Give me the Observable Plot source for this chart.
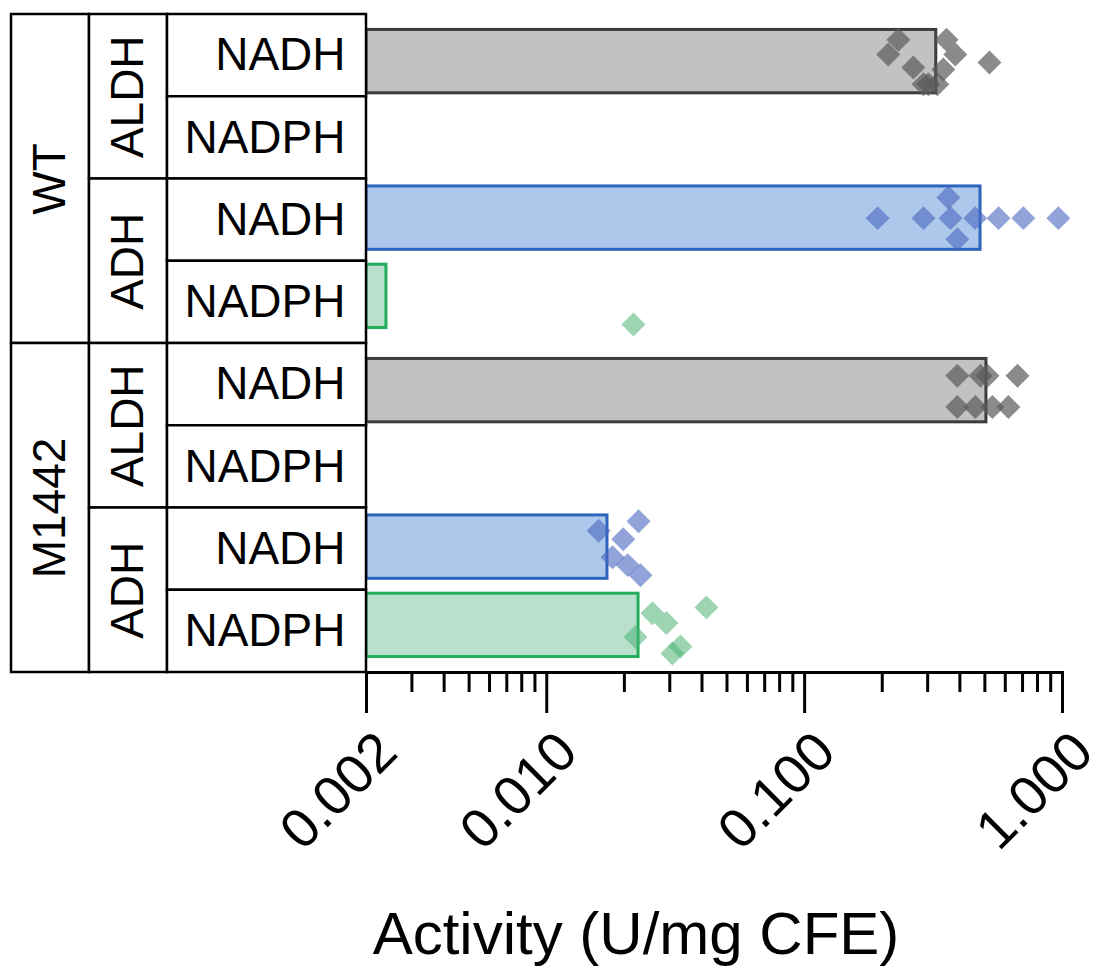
<!DOCTYPE html>
<html>
<head>
<meta charset="utf-8">
<script src="https://cdn.jsdelivr.net/npm/d3@7"></script>
<script src="https://cdn.jsdelivr.net/npm/@observablehq/plot@0.6"></script>
<style>
  body { margin: 0; background: #fff; }
  #wrap { position: relative; width: 1101px; height: 966px; overflow: hidden; font-family: "Liberation Sans", Arial, sans-serif; }
  #wrap svg { position: absolute; left: 0; top: 0; }
  #xtitle { position: absolute; left: 336px; width: 600px; top: 904px; text-align: center; font-size: 60px; line-height: 60px; color: #000; white-space: nowrap; }
</style>
</head>
<body>
<div id="wrap"></div>
<script>
// ---------- data ----------
const strains = ["WT", "M1442"];
const rowStrain   = ["WT", "WT", "WT", "WT", "M1442", "M1442", "M1442", "M1442"];
const rowEnzyme   = ["ALDH", "ALDH", "ADH", "ADH", "ALDH", "ALDH", "ADH", "ADH"];
const rowCofactor = ["NADH", "NADPH", "NADH", "NADPH", "NADH", "NADPH", "NADH", "NADPH"];
const rowMean     = [0.324, null, 0.481, 0.00239, 0.507, null, 0.0172, 0.0227];

// individual measurements (U/mg CFE) and their vertical jitter (fraction of a row)
const wtAldhNadh       = [0.231, 0.211, 0.264, 0.355, 0.384, 0.345, 0.289, 0.327, 0.302, 0.521];
const wtAldhNadhJitter = [-0.28, -0.09, 0.075, -0.28, -0.09, 0.10, 0.29, 0.29, 0.29, 0.01];
const wtAdhNadh        = [0.192, 0.289, 0.361, 0.368, 0.391, 0.459, 0.565, 0.705, 0.964];
const wtAdhNadhJitter  = [0, 0, -0.265, 0, 0.27, 0, 0, 0, 0];
const wtAdhNadph       = [0.0217];
const wtAdhNadphJitter = [0.36];
const mAldhNadh        = [0.391, 0.481, 0.512, 0.669, 0.391, 0.459, 0.535, 0.617];
const mAldhNadhJitter  = [-0.19, -0.19, -0.19, -0.19, 0.21, 0.21, 0.21, 0.21];
const mAdhNadh         = [0.0159, 0.0227, 0.0198, 0.0180, 0.0206, 0.0231];
const mAdhNadhJitter   = [-0.21, -0.33, -0.10, 0.13, 0.23, 0.36];
const mAdhNadph        = [0.0257, 0.0291, 0.0416, 0.0221, 0.0307, 0.0330];
const mAdhNadphJitter  = [-0.155, -0.03, -0.23, 0.15, 0.36, 0.27];

const xDomain = [0.002, 1];
const majorTicks = [0.002, 0.01, 0.1, 1];
const minorTicks = [0.003, 0.004, 0.005, 0.006, 0.007, 0.008, 0.009,
                    0.02, 0.03, 0.04, 0.05, 0.06, 0.07, 0.08, 0.09,
                    0.2, 0.3, 0.4, 0.5, 0.6, 0.7, 0.8, 0.9];
const xLabel = "Activity (U/mg CFE)";

// ---------- styles ----------
const palette = {
  "ALDH NADH": {bar: "#c2c2c2", edge: "#3c3c3c", dot: "#5a5a5a", op: 0.7},
  "ALDH NADPH": {bar: "#c2c2c2", edge: "#3c3c3c", dot: "#5a5a5a", op: 0.7},
  "ADH NADH":  {bar: "#adc8ea", edge: "#2d64be", dot: "#4a66c0", op: 0.6},
  "ADH NADPH": {bar: "#b9e0cc", edge: "#21ad5a", dot: "#4db374", op: 0.55}
};
const font = "'Liberation Sans', Arial, sans-serif";
// table column widths (layout, in px units of the table's x scale)
const tableColWidths = [78, 78, 199];

// ---------- derived tables ----------
const rows = rowStrain.map((s, i) => ({
  strain: s, enzyme: rowEnzyme[i], cofactor: rowCofactor[i], mean: rowMean[i],
  slot: rowStrain.slice(0, i).filter(v => v === s).length,
  key: rowEnzyme[i] + " " + rowCofactor[i]
}));
const series = [
  {row: 0, values: wtAldhNadh, jitter: wtAldhNadhJitter},
  {row: 2, values: wtAdhNadh, jitter: wtAdhNadhJitter},
  {row: 3, values: wtAdhNadph, jitter: wtAdhNadphJitter},
  {row: 4, values: mAldhNadh, jitter: mAldhNadhJitter},
  {row: 6, values: mAdhNadh, jitter: mAdhNadhJitter},
  {row: 7, values: mAdhNadph, jitter: mAdhNadphJitter}
];
const points = series.flatMap(s => s.values.map((v, j) => ({...rows[s.row], value: v, jitter: s.jitter[j]})));
const bars = rows.filter(r => r.mean != null);
const barInset = 0.095;

// ---------- chart ----------
const chart = Plot.plot({
  width: 1101, height: 966,
  marginLeft: 366, marginRight: 39, marginTop: 14, marginBottom: 294,
  style: {background: "transparent", fontFamily: font, color: "#000", overflow: "visible"},
  x: {type: "log", domain: xDomain, axis: null},
  y: {domain: [0, 4], reverse: true, insetTop: 8, insetBottom: 8, axis: null},
  fy: {domain: strains, padding: 0, axis: null},
  marks: [
    Plot.rectX(bars, {
      x1: () => xDomain[0], x2: "mean",
      y1: d => d.slot + barInset, y2: d => d.slot + 1 - barInset,
      fy: "strain",
      fill: d => palette[d.key].bar, stroke: d => palette[d.key].edge, strokeWidth: 3
    }),
    Plot.dot(points, {
      x: "value", y: d => d.slot + 0.5 + d.jitter, fy: "strain",
      symbol: "diamond2", r: 10.8,
      fill: d => palette[d.key].dot, fillOpacity: d => palette[d.key].op, stroke: "none"
    }),
    Plot.frame({anchor: "bottom", facetAnchor: "bottom", stroke: "#000", strokeWidth: 3}),
    Plot.axisX(minorTicks, {anchor: "bottom", tickSize: 20, strokeWidth: 3, stroke: "#000", tickFormat: () => "", label: null}),
    Plot.axisX(majorTicks, {anchor: "bottom", tickSize: 41, strokeWidth: 3, stroke: "#000", tickFormat: () => "", label: null}),
    Plot.axisX(majorTicks, {
      anchor: "bottom", tickSize: 0, tickPadding: 70, tickRotate: -45, dx: 21,
      tickFormat: d3.format(".3f"), fontSize: 55, fill: "#000", label: null
    })
  ]
});

// ---------- left table ----------
function mergeRuns(keys, labels, col) {
  const out = [];
  keys.forEach((k, i) => {
    const last = out[out.length - 1];
    if (last && last.key === k) last.end = i + 1;
    else out.push({key: k, label: labels[i], col, start: i, end: i + 1});
  });
  return out;
}
const colEdges = [0];
tableColWidths.forEach(w => colEdges.push(colEdges[colEdges.length - 1] + w));
const cells = [
  ...mergeRuns(rowStrain, rowStrain, 0),
  ...mergeRuns(rowStrain.map((s, i) => s + rowEnzyme[i] + Math.floor(i / 2)), rowEnzyme, 1),
  ...mergeRuns(rowCofactor.map((c, i) => i), rowCofactor, 2)
].map(c => ({...c, left: colEdges[c.col], right: colEdges[c.col + 1]}));

const table = Plot.plot({
  width: 368, height: 674,
  marginLeft: 11, marginRight: 2, marginTop: 14, marginBottom: 2,
  style: {background: "transparent", fontFamily: font, color: "#000", overflow: "visible"},
  x: {domain: [0, colEdges[colEdges.length - 1]], axis: null},
  y: {domain: [0, 8], reverse: true, axis: null},
  marks: [
    Plot.rect(cells, {x1: "left", x2: "right", y1: "start", y2: "end", fill: "white", stroke: "#000", strokeWidth: 2.5}),
    Plot.text(cells.filter(c => c.col < 2), {
      x: d => (d.left + d.right) / 2, y: d => (d.start + d.end) / 2, text: "label",
      rotate: -90, fontSize: 46, fill: "#000"
    }),
    Plot.text(cells.filter(c => c.col === 2), {
      x: "right", y: d => (d.start + d.end) / 2, text: "label",
      dx: -21, textAnchor: "end", fontSize: 46, fill: "#000"
    })
  ]
});

const wrap = document.getElementById("wrap");
wrap.appendChild(chart);
wrap.appendChild(table);
const title = document.createElement("div");
title.id = "xtitle";
title.textContent = xLabel;
wrap.appendChild(title);
</script>
</body>
</html>
